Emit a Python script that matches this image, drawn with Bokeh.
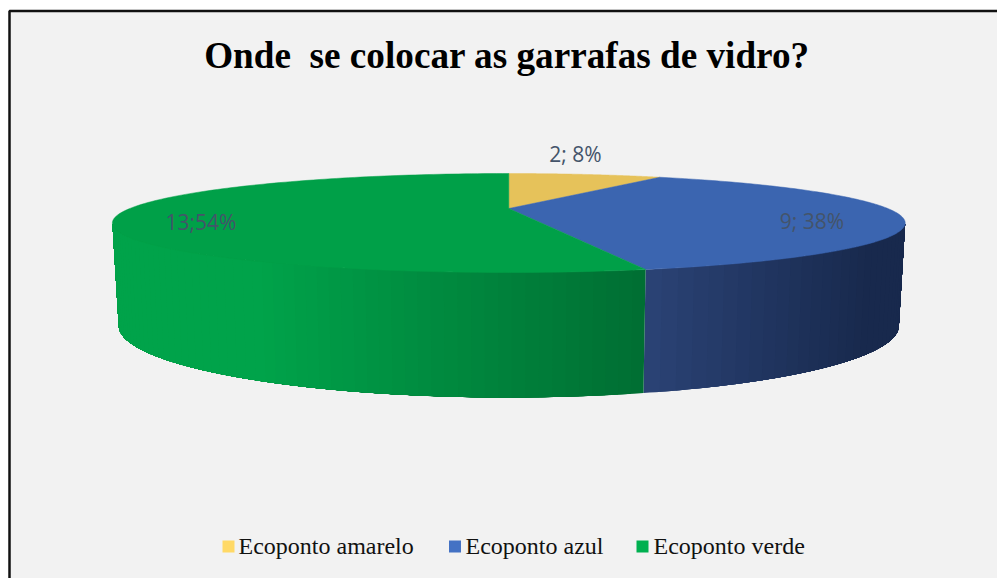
import numpy as np
from bokeh.plotting import figure
from bokeh.models import Range1d
from bokeh.core.properties import value
from bokeh.embed import file_html
from bokeh.resources import INLINE

# ---- data
categories = ["Ecoponto amarelo", "Ecoponto azul", "Ecoponto verde"]
counts = [2, 9, 13]
data_labels = ["2; 8%", "9; 38%", "13;54%"]
title_text = "Onde\u00a0 se colocar as garrafas de vidro?"

# ---- styles
top_colors = ["#e6c25a", "#3b65b0", "#00a048"]
legend_colors = ["#ffd966", "#4472c4", "#00b050"]
BG = "#f2f2f2"
LABEL = "#44546a"
SERIF = "Liberation Serif"
SANS = "Open Sans"

W, H = 997, 578
p = figure(width=W, height=H, output_backend="svg", toolbar_location=None,
           x_range=Range1d(0, W), y_range=Range1d(H, 0),
           min_border=0, border_fill_color="white", background_fill_color="white",
           outline_line_color=None)
p.axis.visible = False
p.grid.visible = False

# panel
p.quad(left=[9], right=[1010], top=[10.5], bottom=[600], fill_color=BG,
       line_color="#111111", line_width=2.5)

K = 0.293
CX = 508.3


def top_disc(t):
    u, v = np.sin(t), np.cos(t)
    d = 1 + K * v
    return CX + 379 * u / d, 208 - 45.25 * v / d


def bottom_disc(t):
    u, v = np.sin(t), np.cos(t)
    d = 1 + K * v
    return CX + 373 * u / d, 303.9 - 65.8 * v / d


total = sum(counts)
edges = np.concatenate([[0], np.cumsum(counts)]) / total * 2 * np.pi
T_RIGHT = np.pi - np.arccos(K)
T_LEFT = np.pi + np.arccos(K)


def mix(c1, c2, f):
    a = [int(c1[i:i + 2], 16) for i in (1, 3, 5)]
    b = [int(c2[i:i + 2], 16) for i in (1, 3, 5)]
    return "#%02x%02x%02x" % tuple(round(x + (y - x) * f) for x, y in zip(a, b))


def wall(t0, t1, col):
    t = np.linspace(t0, t1, 80)
    xt, yt = top_disc(t)
    xb, yb = bottom_disc(t)
    p.patch(np.r_[xt, xb[::-1]], np.r_[yt, yb[::-1]], fill_color=col, line_color=None)


# side wall: nested bands, each covering the rest of its slice, so there are no seams
bands = 30
for t0 in np.linspace(edges[2], T_RIGHT, bands + 1)[:-1]:
    xm = top_disc(t0)[0]
    f = float(np.clip((xm - 645) / (905 - 645) / 0.85, 0, 1))
    wall(t0, T_RIGHT, mix("#2a4274", "#18294d", f))
for t0 in np.linspace(edges[2], T_LEFT, bands * 2 + 1)[:-1]:
    xm = top_disc(t0)[0]
    f = float(np.clip((645 - xm) / (645 - 112) / 0.72, 0, 1))
    wall(t0, T_LEFT, mix("#006f33", "#00a34a", f))

for i, c in enumerate(top_colors):
    t = np.linspace(edges[i], edges[i + 1], 160)
    x, y = top_disc(t)
    p.patch(np.r_[CX, x], np.r_[208, y], fill_color=c, line_color=c, line_width=0.5)

# ---- texts
p.text([506.5], [54.5], text=[title_text], text_font=value(SERIF), text_font_style="bold",
       text_font_size="37.2px", text_color="black", text_align="center", text_baseline="middle")

p.text([575, 811.5, 200.5], [153, 220, 221], text=data_labels, text_font=value(SANS),
       text_font_size="21px", text_color=LABEL, text_align="center", text_baseline="middle")

leg_sq = [228, 454.5, 642]
leg_tx = [238, 465, 653]
p.rect(leg_sq, [546] * 3, width=12, height=12, fill_color=legend_colors, line_color=None)
p.text(leg_tx, [545] * 3, text=categories, text_font=value(SERIF), text_font_size="24px",
       text_color="#111111", text_align="left", text_baseline="middle")

open("out.html", "w").write(file_html(p, INLINE))
